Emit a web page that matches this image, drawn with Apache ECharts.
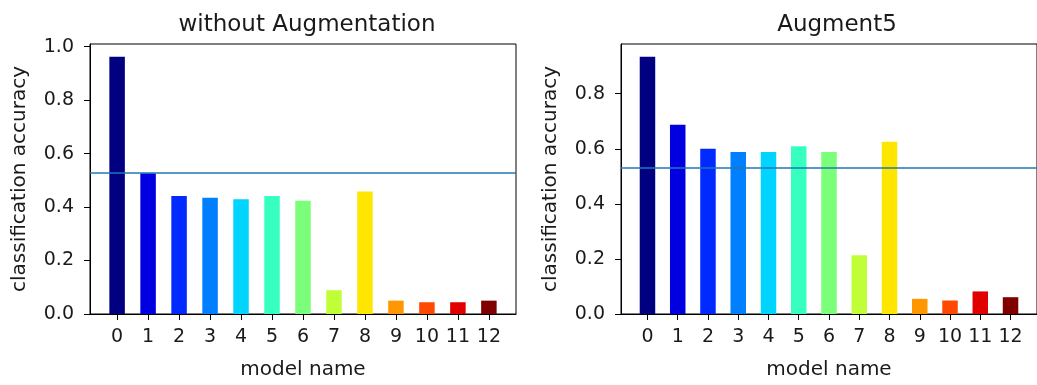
<!DOCTYPE html>
<html>
<head>
<meta charset="utf-8">
<script src="https://cdn.jsdelivr.net/npm/echarts@6/dist/echarts.min.js"></script>
<style>
  html, body { margin: 0; padding: 0; background: #fff; }
  #chart { width: 1037px; height: 385px; }
</style>
</head>
<body>
<div id="chart"></div>
<script>
// Model ids on the x axis
const categories = ['0', '1', '2', '3', '4', '5', '6', '7', '8', '9', '10', '11', '12'];
// Classification accuracy per model
const accNoAug = [0.962, 0.527, 0.441, 0.435, 0.429, 0.441, 0.424, 0.089, 0.458, 0.050, 0.044, 0.044, 0.050];
const accAug5 = [0.934, 0.687, 0.600, 0.588, 0.588, 0.609, 0.588, 0.213, 0.626, 0.055, 0.049, 0.082, 0.061];
// Reference accuracy drawn as a horizontal rule
const baseline = 0.53;
// Y tick labels
const yTicksLeft = [0, 0.2, 0.4, 0.6, 0.8, 1.0];
const yTicksRight = [0, 0.2, 0.4, 0.6, 0.8];
// jet colormap sampled at 13 points
const barColors = ['#000080', '#0000e0', '#002aff', '#0080ff', '#00d4ff', '#37ffc0', '#7bff7b',
                   '#c0ff37', '#ffe600', '#ff9700', '#ff4800', '#e00000', '#800000'];

const FONT = 'DejaVu Sans';
const TXT = '#1a1a1a';
const xTickValues = categories.map((c, i) => i);

function xAxisFor(gridIndex) {
  return {
    type: 'value', gridIndex, min: -0.875, max: 12.875,
    name: 'model name', nameLocation: 'middle', nameGap: 46,
    nameTextStyle: { fontFamily: FONT, fontSize: 20, color: TXT },
    splitLine: { show: false },
    axisLine: { show: true, onZero: false, lineStyle: { color: '#000', width: 1 } },
    axisTick: { show: true, length: 6, customValues: xTickValues, lineStyle: { color: '#000' } },
    axisLabel: { customValues: xTickValues, margin: 14, fontFamily: FONT, fontSize: 19, color: TXT,
                 formatter: v => categories[Math.round(v)] }
  };
}

function yAxisFor(gridIndex, max, ticks) {
  return {
    type: 'value', gridIndex, min: 0, max,
    name: 'classification accuracy', nameLocation: 'middle', nameGap: 60,
    nameTextStyle: { fontFamily: FONT, fontSize: 20, color: TXT },
    splitLine: { show: false },
    axisLine: { show: true, onZero: false, lineStyle: { color: '#000', width: 1 } },
    axisTick: { show: true, length: 6, customValues: ticks, lineStyle: { color: '#000' } },
    axisLabel: { customValues: ticks, margin: 16, fontFamily: FONT, fontSize: 19, color: TXT,
                 formatter: v => v.toFixed(1) }
  };
}

function barSeries(idx, values) {
  return {
    type: 'bar', xAxisIndex: idx, yAxisIndex: idx, barWidth: 15.5,
    data: values.map((v, i) => ({ value: [i, v], itemStyle: { color: barColors[i] } })),
    markLine: {
      silent: true, symbol: ['none', 'none'], label: { show: false },
      lineStyle: { color: '#1f77b4', width: 1.5, type: 'solid' },
      data: [{ yAxis: baseline }]
    }
  };
}

const chart = echarts.init(document.getElementById('chart'), null, { renderer: 'canvas' });
chart.setOption({
  animation: false,
  backgroundColor: '#fff',
  title: [
    { text: 'without Augmentation', left: 302, top: 9, textAlign: 'center',
      textStyle: { fontFamily: FONT, fontSize: 23, fontWeight: 'normal', color: TXT } },
    { text: 'Augment5', left: 832, top: 9, textAlign: 'center',
      textStyle: { fontFamily: FONT, fontSize: 23, fontWeight: 'normal', color: TXT } }
  ],
  grid: [
    { left: 90, top: 44, width: 426, height: 273, show: true, borderColor: '#000', borderWidth: 1 },
    { left: 621, top: 44, width: 424, height: 273, show: true, borderColor: '#000', borderWidth: 1 }
  ],
  xAxis: [xAxisFor(0), xAxisFor(1)],
  yAxis: [
    yAxisFor(0, Math.max(...accNoAug) * 1.05, yTicksLeft),
    yAxisFor(1, Math.max(...accAug5) * 1.05, yTicksRight)
  ],
  series: [barSeries(0, accNoAug), barSeries(1, accAug5)]
});
</script>
</body>
</html>
